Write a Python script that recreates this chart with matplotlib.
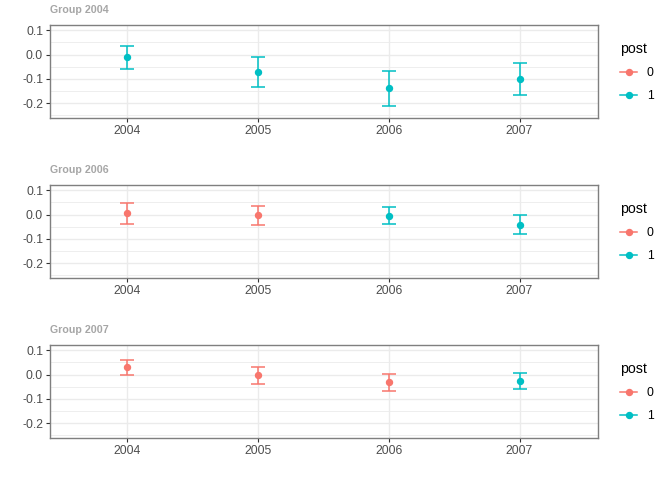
import numpy as np
import matplotlib
matplotlib.use("Agg")
import matplotlib.pyplot as plt
from matplotlib.lines import Line2D
from matplotlib.ticker import MultipleLocator

plt.rcParams['font.family'] = ['Liberation Sans', 'DejaVu Sans']

# ---------- data ----------
years = [2004, 2005, 2006, 2007]
groups = ["Group 2004", "Group 2006", "Group 2007"]

est_2004 = [-0.012, -0.071, -0.139, -0.101]
lo_2004 = [-0.058, -0.133, -0.210, -0.168]
hi_2004 = [0.034, -0.012, -0.066, -0.034]
post_2004 = [1, 1, 1, 1]

est_2006 = [0.006, -0.003, -0.005, -0.042]
lo_2006 = [-0.040, -0.042, -0.041, -0.082]
hi_2006 = [0.049, 0.034, 0.029, -0.003]
post_2006 = [0, 0, 1, 1]

est_2007 = [0.029, -0.004, -0.032, -0.027]
lo_2007 = [-0.001, -0.037, -0.067, -0.061]
hi_2007 = [0.060, 0.029, 0.004, 0.006]
post_2007 = [0, 0, 0, 1]

series = [
    (est_2004, lo_2004, hi_2004, post_2004),
    (est_2006, lo_2006, hi_2006, post_2006),
    (est_2007, lo_2007, hi_2007, post_2007),
]

colors = {0: "#F8766D", 1: "#00BFC4"}

fig = plt.figure(figsize=(6.72, 4.8), dpi=100)
W, H = 672, 480
left, right = 50, 598
tops = [25.3, 185.3, 345.3]
ph = 93

for g, (name, (est, lo, hi, post)) in enumerate(zip(groups, series)):
    ax = fig.add_axes([left / W, 1 - (tops[g] + ph) / H, (right - left) / W, ph / H])
    ax.set_facecolor("white")
    for yr, e, l, h, p in zip(years, est, lo, hi, post):
        ax.errorbar([yr], [e], yerr=[[e - l], [h - e]], fmt="o", color=colors[p],
                    ms=4.3, elinewidth=1.1, capsize=5, capthick=1.1, zorder=3)
    ax.set_xlim(2003.41, 2007.6)
    ax.set_ylim(-0.262, 0.12)
    ax.set_xticks(years)
    ax.set_xticklabels([str(y) for y in years])
    ax.yaxis.set_minor_locator(MultipleLocator(0.05))
    ax.set_yticks([-0.2, -0.1, 0.0, 0.1])
    ax.set_yticklabels(["-0.2", "-0.1", "0.0", "0.1"])
    ax.grid(True, which="major", color="#EBEBEB", lw=1.0, zorder=0)
    ax.grid(True, which="minor", axis="y", color="#EBEBEB", lw=0.6, zorder=0)
    ax.set_axisbelow(True)
    for s in ax.spines.values():
        s.set_color("#7F7F7F")
        s.set_linewidth(1.0)
    ax.tick_params(axis="both", which="major", length=3, width=0.8, color="#333333",
                   labelsize=8.8, labelcolor="#4D4D4D", pad=2)
    ax.tick_params(axis="y", which="minor", length=0)
    ax.text(0, 1.11, name, transform=ax.transAxes, fontsize=7.7, fontweight="bold",
            color="#A6A6A6", ha="left", va="bottom")

    handles = [Line2D([0], [0], color=colors[k], marker="o", ms=4.3, lw=1.1) for k in (0, 1)]
    leg = ax.legend(handles, ["0", "1"], title="post", loc="center left",
                    bbox_to_anchor=(1.02, 0.5), frameon=False, fontsize=8.8,
                    title_fontsize=10.2, handlelength=1.4, handletextpad=0.8,
                    labelspacing=0.9, alignment="left")

fig.savefig("out.png", dpi=100, facecolor="white")
